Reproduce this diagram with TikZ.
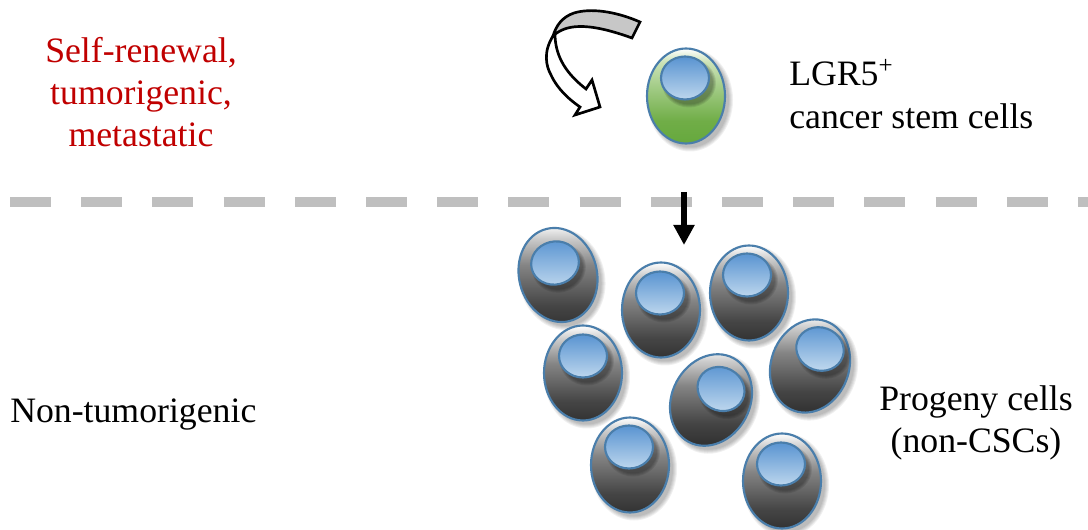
\documentclass[tikz,border=0pt]{standalone}
\usepackage{fontspec}
\setmainfont{Liberation Serif}
\usetikzlibrary{shapes.geometric,arrows.meta}
\definecolor{cellline}{HTML}{4A7EAB}
\definecolor{darkredtext}{HTML}{C00000}
\definecolor{dashgrey}{HTML}{BFBFBF}
% Shading stops sit between 25bp (bottom of shape) and 75bp (top of shape)
\pgfdeclareverticalshading{greybody}{100bp}{
  rgb(0bp)=(0.20,0.20,0.20); rgb(25bp)=(0.20,0.20,0.20); rgb(35bp)=(0.27,0.27,0.27);
  rgb(55bp)=(0.52,0.52,0.52); rgb(68bp)=(0.80,0.80,0.80); rgb(75bp)=(1,1,1); rgb(100bp)=(1,1,1)}
\pgfdeclareverticalshading{greenbody}{100bp}{
  rgb(0bp)=(0.40,0.66,0.24); rgb(25bp)=(0.40,0.66,0.24); rgb(37bp)=(0.44,0.68,0.28);
  rgb(55bp)=(0.64,0.80,0.53); rgb(68bp)=(0.80,0.89,0.72); rgb(75bp)=(1,1,1); rgb(100bp)=(1,1,1)}
\pgfdeclareverticalshading{bluecore}{100bp}{
  rgb(0bp)=(0.74,0.84,0.93); rgb(25bp)=(0.74,0.84,0.93);
  rgb(75bp)=(0.35,0.58,0.82); rgb(100bp)=(0.35,0.58,0.82)}
\tikzset{
  x=0.75pt,y=-0.75pt,
  cellbody/.style={ellipse,draw=cellline,line width=1.6pt,inner sep=0pt,
    minimum width=78\pxu,minimum height=95\pxu,shading=greybody},
  cellcore/.style={ellipse,draw=cellline,line width=1.6pt,inner sep=0pt,
    minimum width=48\pxu,minimum height=43\pxu,shading=bluecore},
  softshadow/.style={ellipse,fill=black,fill opacity=0.06,draw=none,inner sep=0pt},
  label text/.style={font=\fontsize{26.8}{31.7}\selectfont,align=center,inner sep=0pt},
}
\newcommand{\pxu}{pt*0.75}
% #1 name, #2,#3 body centre, #4 tilt, #5,#6 core centre, #7 body shading
\newcommand{\cellat}[7]{%
  \foreach \g in {0,2,4,6,8}{
    \node[softshadow,rotate=#4,minimum width={(86-\g)*0.75pt},minimum height={(103-\g)*0.75pt}]
      (#1-halo\g) at (#2+4,#3+4) {};
  }
  \node[cellbody,shading=#7,rotate=#4] (#1) at (#2,#3) {};
  \foreach \g in {0,2,4,6}{
    \node[softshadow,rotate=#4,fill opacity=0.09,minimum width={(54-\g)*0.75pt},minimum height={(49-\g)*0.75pt}]
      (#1-corehalo\g) at (#5+4,#6+5) {};
  }
  \node[cellcore,rotate=#4] (#1-core) at (#5,#6) {};
}
\begin{document}
\begin{tikzpicture}
\useasboundingbox (0,0) rectangle (1088,530);

% Boundary between the two populations
\coordinate (divL) at (10,202);
\coordinate (divR) at (1088,202);
\draw[dashgrey,line width=7.5pt,dash pattern=on 30.8pt off 22.6pt] (divL) -- (divR);

% Self-renewal arrow: grey tail band and white body with head
\draw[black,line width=2pt,line join=miter,fill=white]
  (553,36) .. controls (543,52) and (546,66) .. (551,75)
  .. controls (558,90) and (570,100) .. (580,107)
  -- (575,115) -- (600,107) -- (592,80) -- (586,89)
  .. controls (572,78) and (556,62) .. (555,36) -- cycle;
\draw[black,line width=2pt,line join=miter,fill=black!22]
  (640,22) .. controls (615,11) and (590,8) .. (574,13)
  .. controls (562,17) and (556,26) .. (553,36)
  .. controls (565,25) and (585,21) .. (632,38) -- cycle;

% Cancer stem cell
\cellat{stem}{686}{96}{0}{685}{78}{greenbody}

% Progeny cells
\cellat{p1}{558}{275}{14}{555}{263}{greybody}
\cellat{p2}{661}{310}{0}{660}{293}{greybody}
\cellat{p3}{749}{293}{0}{747}{275}{greybody}
\cellat{p4}{583}{373}{0}{583}{356}{greybody}
\cellat{p5}{810}{366}{-20}{820}{349}{greybody}
\cellat{p6}{711}{400}{-28}{721}{389}{greybody}
\cellat{p7}{630}{465}{0}{629}{447}{greybody}
\cellat{p8}{782}{481}{0}{781}{464}{greybody}

% Differentiation arrow
\coordinate (diffA) at (684,192);
\coordinate (diffB) at (684,245);
\draw[black,line width=4.5pt,-{Triangle[width=15pt,length=15pt]}] (diffA) -- (diffB);

% Labels
\node[label text,text=darkredtext] (traits) at (141,92)
  {Self-renewal,\\tumorigenic,\\metastatic};
\node[label text,align=left,anchor=west] (stemname) at (789,94)
  {LGR5\textsuperscript{+}\\cancer stem cells};
\node[label text,anchor=west] (nontum) at (10,415) {Non-tumorigenic};
\node[label text] (progeny) at (976,423) {Progeny cells\\(non-CSCs)};
\end{tikzpicture}
\end{document}
